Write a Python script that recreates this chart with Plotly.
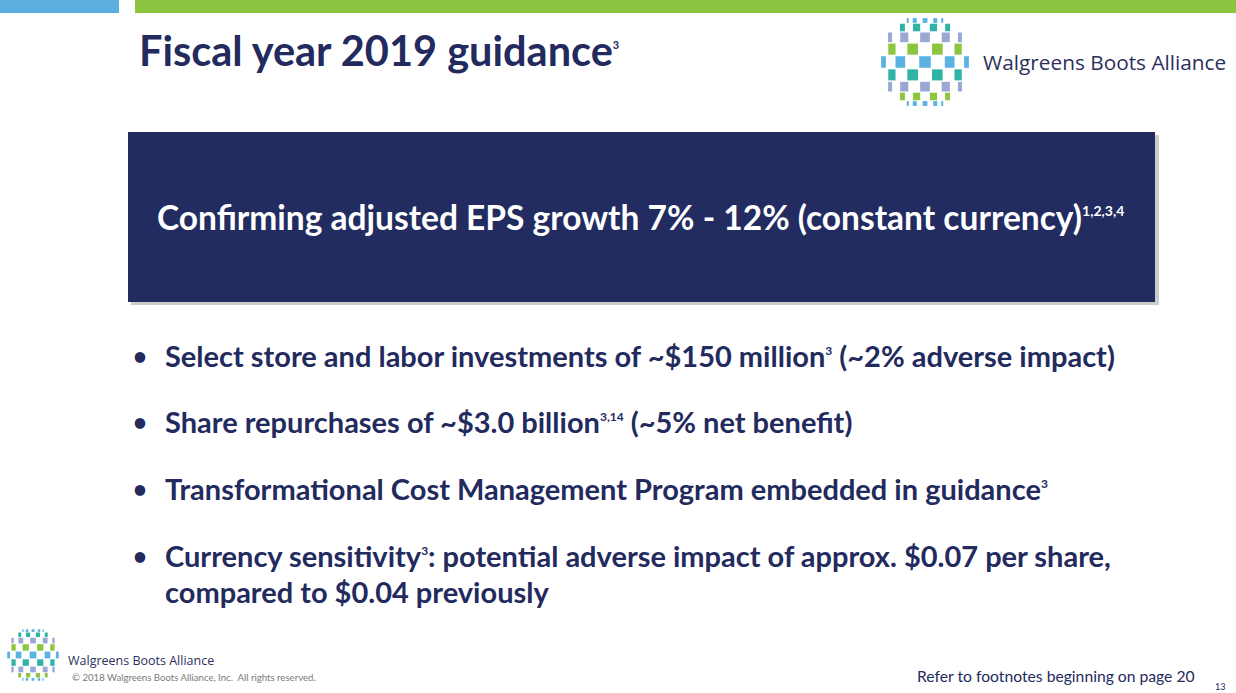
import numpy as np
import plotly.graph_objects as go

W, H = 1236, 693
NAVY = "#232a5e"
BOX = "#232c60"
FONT = "Lato"

# slide text
title_text = "Fiscal year 2019 guidance"
title_sup = "3"
headline_text = "Confirming adjusted EPS growth 7% - 12% (constant currency)"
headline_sup = "1,2,3,4"
bullet_main = [
    "Select store and labor investments of ~$150 million",
    "Share repurchases of ~$3.0 billion",
    "Transformational Cost Management Program embedded in guidance",
    "Currency sensitivity",
]
bullet_sup = ["3", "3,14", "3", "3"]
bullet_tail = [
    " (~2% adverse impact)",
    " (~5% net benefit)",
    "",
    ": potential adverse impact of approx. $0.07 per share,",
]
bullet_cont = ["", "", "", "compared to $0.04 previously"]
brand_name = "Walgreens Boots Alliance"
copyright_text = "© 2018 Walgreens Boots Alliance, Inc.  All rights reserved."
footnote_text = "Refer to footnotes beginning on page 20"
page_number = "13"

logo_colors = ["#8cc63f", "#5ab2e2", "#2fb3a4", "#9aa8d6"]


def globe_shapes(cx, cy, r, n=11, gap=0.06):
    # checkerboard globe like the company mark
    shapes = []
    edges = np.linspace(-np.pi / 2, np.pi / 2, n + 1)
    for i in range(n):
        for j in range(n):
            if (i + j) % 2:
                continue
            lon0, lon1 = edges[i], edges[i + 1]
            lat0, lat1 = edges[j], edges[j + 1]
            latm = (lat0 + lat1) / 2
            dlon = (lon1 - lon0) * gap
            dlat = (lat1 - lat0) * gap
            x0 = cx + r * np.sin(lon0 + dlon) * np.cos(latm)
            x1 = cx + r * np.sin(lon1 - dlon) * np.cos(latm)
            y0 = cy + r * np.sin(lat0 + dlat)
            y1 = cy + r * np.sin(lat1 - dlat)
            if abs(x1 - x0) < 0.04 * r or abs(y1 - y0) < 0.03 * r:
                continue
            shapes.append(dict(
                type="rect", xref="x", yref="y",
                x0=x0, x1=x1, y0=y0, y1=y1,
                fillcolor=logo_colors[(2 * i + 3 * j) % 4], line_width=0,
            ))
    return shapes


def small(s, px):
    return f"<sup><span style='font-size:{px}px'>{s}</span></sup>"


fig = go.Figure()
fig.add_trace(go.Scatter(x=[0, W], y=[0, H], mode="markers",
                         marker=dict(opacity=0), hoverinfo="skip"))

shapes = [
    dict(type="rect", x0=0, x1=119, y0=0, y1=13, fillcolor="#5aafdf", line_width=0),
    dict(type="rect", x0=135, x1=W, y0=0, y1=13, fillcolor="#8dc540", line_width=0),
    # shadow then headline box
    dict(type="rect", x0=131, x1=1159, y0=135, y1=305,
         fillcolor="rgba(0,0,0,0.2)", line_width=0),
    dict(type="rect", x0=128, x1=1155, y0=132, y1=302, fillcolor=BOX, line_width=0),
]
for s in shapes:
    s.update(xref="x", yref="y")
shapes += globe_shapes(925, 62, 46)
shapes += globe_shapes(33, 655, 27)

ann = []


def txt(x, y, text, size, color=NAVY, weight="normal", xanchor="left", family=FONT):
    ann.append(dict(x=x, y=y, xref="x", yref="y", text=text, showarrow=False,
                    xanchor=xanchor, yanchor="middle", align="left",
                    font=dict(family=family, size=size, color=color, weight=weight)))


txt(137, 50, title_text + small(title_sup, 11), 41.5, weight="bold")
txt(981, 62, brand_name, 20.8, color="#2b2f5c", family="Open Sans")
txt(155, 217, headline_text + small(headline_sup, 14), 33.5, color="white", weight="bold")

bullet_y = [355, 421, 488, 555]
for k in range(len(bullet_main)):
    txt(131, bullet_y[k], "•", 24, weight="bold")
    txt(163, bullet_y[k], bullet_main[k] + small(bullet_sup[k], 12) + bullet_tail[k],
        29, weight="bold")
    if bullet_cont[k]:
        txt(163, bullet_y[k] + 36, bullet_cont[k], 29, weight="bold")

txt(66, 660, brand_name, 12.5, color="#2b2f5c", family="Open Sans")
txt(70, 677, copyright_text, 9.6, color="#7a7a7a")
txt(1197, 676, footnote_text, 15.7, xanchor="right")
txt(1213, 686, page_number, 9)

fig.update_layout(
    width=W, height=H, margin=dict(l=0, r=0, t=0, b=0),
    paper_bgcolor="white", plot_bgcolor="white", showlegend=False,
    xaxis=dict(range=[0, W], visible=False, fixedrange=True),
    yaxis=dict(range=[H, 0], visible=False, fixedrange=True),
    shapes=shapes, annotations=ann,
)
fig.write_html("out.html", config={"displayModeBar": False},
               post_script="document.body.style.margin='0';")
